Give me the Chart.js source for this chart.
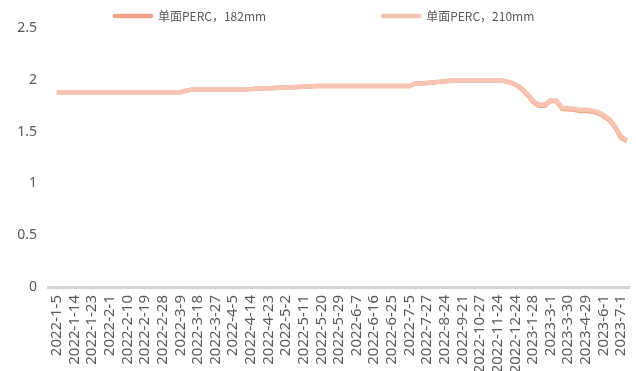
<!DOCTYPE html>
<html>
<head>
<meta charset="utf-8">
<script src="https://cdn.jsdelivr.net/npm/chart.js@4"></script>
<style>
  html, body { margin: 0; padding: 0; overflow: hidden; background: #fff; }
  #wrap { width: 650px; height: 400px; }
</style>
</head>
<body>
<div id="wrap"><canvas id="chart"></canvas></div>
<script>
// dates shown on the x axis (one every 3 data points)
const tickDates = ['2022-1-5', '2022-1-14', '2022-1-23', '2022-2-1', '2022-2-10', '2022-2-19', '2022-2-28',
  '2022-3-9', '2022-3-18', '2022-3-27', '2022-4-5', '2022-4-14', '2022-4-23', '2022-5-2', '2022-5-11',
  '2022-5-20', '2022-5-29', '2022-6-7', '2022-6-16', '2022-6-25', '2022-7-5', '2022-7-27', '2022-8-24',
  '2022-9-21', '2022-10-27', '2022-11-24', '2022-12-24', '2023-1-28', '2023-3-1', '2023-3-30',
  '2023-4-29', '2023-6-1', '2023-7-1'];
const perTick = 3;

const seriesNames = ['单面PERC，182mm', '单面PERC，210mm'];
const seriesColors = ['#F1A384', '#F6C4B1'];

// 单面PERC 210mm
const perc210 = [null,
  1.88, 1.88, 1.88, 1.88, 1.88, 1.88, 1.88, 1.88, 1.88, 1.88,
  1.88, 1.88, 1.88, 1.88, 1.88, 1.88, 1.88, 1.88, 1.88, 1.88,
  1.88, 1.88, 1.895, 1.905, 1.905, 1.905, 1.905, 1.905, 1.905, 1.905,
  1.905, 1.905, 1.908, 1.91, 1.913, 1.915, 1.918, 1.92, 1.923, 1.925,
  1.928, 1.93, 1.933, 1.936, 1.94, 1.94, 1.94, 1.94, 1.94, 1.94,
  1.94, 1.94, 1.94, 1.94, 1.94, 1.94, 1.94, 1.94, 1.94, 1.94,
  1.94, 1.965, 1.965, 1.97, 1.975, 1.98, 1.985, 1.99, 1.99, 1.99,
  1.99, 1.99, 1.99, 1.99, 1.99, 1.99, 1.99, 1.975, 1.955, 1.92,
  1.87, 1.80, 1.76, 1.76, 1.80, 1.80, 1.73, 1.725, 1.72, 1.71,
  1.71, 1.705, 1.69, 1.66, 1.62, 1.55, 1.45, 1.415];

// 单面PERC 182mm (almost the same, a bit lower in 2023)
const perc182 = [null,
  1.88, 1.88, 1.88, 1.88, 1.88, 1.88, 1.88, 1.88, 1.88, 1.88,
  1.88, 1.88, 1.88, 1.88, 1.88, 1.88, 1.88, 1.88, 1.88, 1.88,
  1.88, 1.88, 1.895, 1.905, 1.905, 1.905, 1.905, 1.905, 1.905, 1.905,
  1.905, 1.905, 1.908, 1.91, 1.913, 1.915, 1.918, 1.92, 1.923, 1.925,
  1.928, 1.93, 1.933, 1.936, 1.94, 1.94, 1.94, 1.94, 1.94, 1.94,
  1.94, 1.94, 1.94, 1.94, 1.94, 1.94, 1.94, 1.94, 1.94, 1.94,
  1.94, 1.965, 1.965, 1.97, 1.975, 1.98, 1.985, 1.99, 1.99, 1.99,
  1.99, 1.99, 1.99, 1.99, 1.99, 1.99, 1.99, 1.975, 1.955, 1.915,
  1.86, 1.79, 1.75, 1.75, 1.795, 1.795, 1.72, 1.715, 1.71, 1.70,
  1.70, 1.695, 1.68, 1.65, 1.61, 1.54, 1.44, 1.41];

const yTicks = { min: 0, max: 2.5, step: 0.5 };

// one category per data point, date label on every third one
const categories = [''];
tickDates.forEach(d => {
  categories.push(d);
  for (let i = 1; i < perTick; i++) categories.push('');
});
categories.length = perc210.length;

// legend drawn by hand so the wide gap between the two items can be kept
const legendPlugin = {
  id: 'wideLegend',
  afterDraw(chart) {
    const ctx = chart.ctx;
    ctx.save();
    ctx.font = '12px "Noto Sans CJK SC", "Noto Sans", sans-serif';
    ctx.textBaseline = 'middle';
    let x = 113;
    const y = 16;
    chart.data.datasets.forEach(ds => {
      ctx.strokeStyle = ds.borderColor;
      ctx.lineWidth = 4.5;
      ctx.lineCap = 'round';
      ctx.beginPath();
      ctx.moveTo(x + 2, y);
      ctx.lineTo(x + 38, y);
      ctx.stroke();
      ctx.fillStyle = '#595959';
      ctx.fillText(ds.label, x + 45, y);
      x += 45 + ctx.measureText(ds.label).width + 115;
    });
    ctx.restore();
  }
};

const ctx = document.getElementById('chart').getContext('2d');
new Chart(ctx, {
  type: 'line',
  data: {
    labels: categories,
    datasets: [{
      label: seriesNames[0],
      data: perc182,
      borderColor: seriesColors[0],
      backgroundColor: seriesColors[0],
      borderWidth: 4.5,
      pointRadius: 0,
      tension: 0,
      order: 1
    }, {
      label: seriesNames[1],
      data: perc210,
      borderColor: seriesColors[1],
      backgroundColor: seriesColors[1],
      borderWidth: 4.5,
      pointRadius: 0,
      tension: 0,
      order: 0
    }]
  },
  options: {
    responsive: true,
    maintainAspectRatio: false,
    animation: false,
    layout: { padding: { top: 28, right: 11, left: 0, bottom: 0 } },
    plugins: {
      legend: { display: false },
      tooltip: { enabled: false }
    },
    scales: {
      x: {
        offset: true,
        afterFit: (scale) => { scale.height = 113; },
        grid: {
          drawOnChartArea: false,
          drawTicks: true,
          tickLength: 3,
          lineWidth: 1,
          color: '#ececec'
        },
        border: { display: true, color: '#d4d4d4', width: 3 },
        ticks: {
          autoSkip: false,
          minRotation: 90,
          maxRotation: 90,
          padding: 5,
          color: '#595959',
          font: { family: 'Noto Sans', size: 15 }
        }
      },
      y: {
        min: yTicks.min,
        max: yTicks.max,
        afterFit: (scale) => { scale.width = 48; },
        grid: { display: false, drawTicks: false },
        border: { display: false },
        ticks: {
          stepSize: yTicks.step,
          padding: 11,
          color: '#595959',
          font: { family: 'Noto Sans', size: 14 },
          callback: (v) => String(Number(v.toFixed(1)))
        }
      }
    }
  },
  plugins: [legendPlugin]
});
</script>
</body>
</html>
